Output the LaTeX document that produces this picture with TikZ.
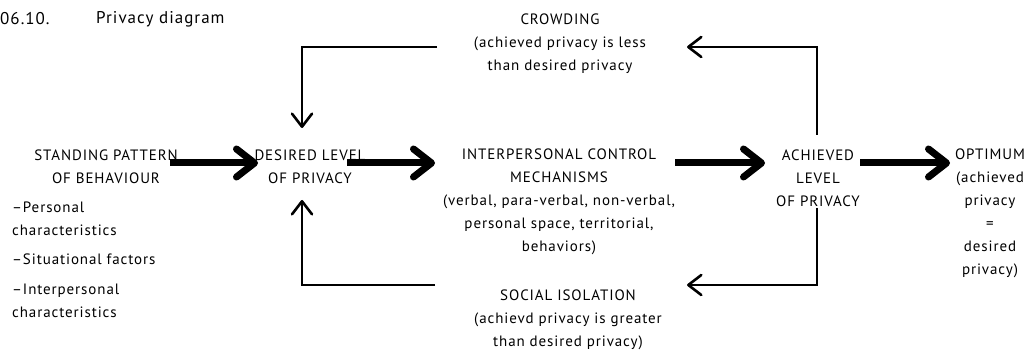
\documentclass[tikz,border=0pt]{standalone}
\usepackage{fontspec}
\setmainfont[LetterSpace=6]{PT Sans}
\usetikzlibrary{arrows.meta}
\begin{document}
\begin{tikzpicture}[x=1pt,y=-1pt,
  lbl/.style={align=center, inner sep=0pt, font=\fontsize{15}{23}\selectfont},
  ttl/.style={anchor=west, inner sep=0pt, font=\fontsize{17}{20}\selectfont},
  bigarrow/.style={line width=7pt, -{Straight Barb[round,length=18pt,width=28pt]}},
  fbarrow/.style={line width=2.6pt, -{Straight Barb[round,length=13pt,width=20pt]}},
]
\useasboundingbox (0,0) rectangle (1032,352);

% heading
\node[ttl] (num) at (0,19) {06.10.};
\node[ttl] (title) at (96,19) {Privacy diagram};

% main chain
\node[lbl] (sp) at (106,167) {STANDING PATTERN\\OF BEHAVIOUR};
\node[lbl] (dl) at (310,167) {DESIRED LEVEL\\OF PRIVACY};
\node[lbl] (icm) at (559,201.5) {INTERPERSONAL CONTROL\\MECHANISMS\\(verbal, para-verbal, non-verbal,\\personal space, territorial,\\behaviors)};
\node[lbl] (al) at (818,178.5) {ACHIEVED\\LEVEL\\OF PRIVACY};
\node[lbl] (opt) at (990,213.5) {OPTIMUM\\(achieved\\privacy\\=\\desired\\privacy)};

% feedback outcomes
\node[lbl] (crowd) at (560,44) {CROWDING\\(achieved privacy is less\\than desired privacy};
\node[lbl] (iso) at (568,320) {SOCIAL ISOLATION\\(achievd privacy is greater\\than desired privacy)};

% factors list
\node[lbl, align=left, anchor=west] (factors) at (12,259.5) {\textendash Personal\\characteristics\\[6pt]\textendash Situational factors\\[7pt]\textendash Interpersonal\\characteristics};

% arrow end points
\coordinate (a1s) at (170,163);
\coordinate (a1e) at (258,163);
\coordinate (a2s) at (347,163);
\coordinate (a2e) at (435,163);
\coordinate (a3s) at (675,163);
\coordinate (a3e) at (765,163);
\coordinate (a4s) at (860,163);
\coordinate (a4e) at (950,163);

\coordinate (achTop) at (817,135);
\coordinate (crowdR) at (687,47);
\coordinate (crowdL) at (437,47);
\coordinate (desTop) at (302,128);
\coordinate (achBot) at (817,208);
\coordinate (isoR) at (687,285);
\coordinate (isoL) at (435,285);
\coordinate (desBot) at (302,200);

% forward flow
\draw[bigarrow] (a1s) -- (a1e);
\draw[bigarrow] (a2s) -- (a2e);
\draw[bigarrow] (a3s) -- (a3e);
\draw[bigarrow] (a4s) -- (a4e);

% feedback loops
\draw[fbarrow] (achTop) |- (crowdR);
\draw[fbarrow] (crowdL) -| (desTop);
\draw[fbarrow] (achBot) |- (isoR);
\draw[fbarrow] (isoL) -| (desBot);
\end{tikzpicture}
\end{document}
